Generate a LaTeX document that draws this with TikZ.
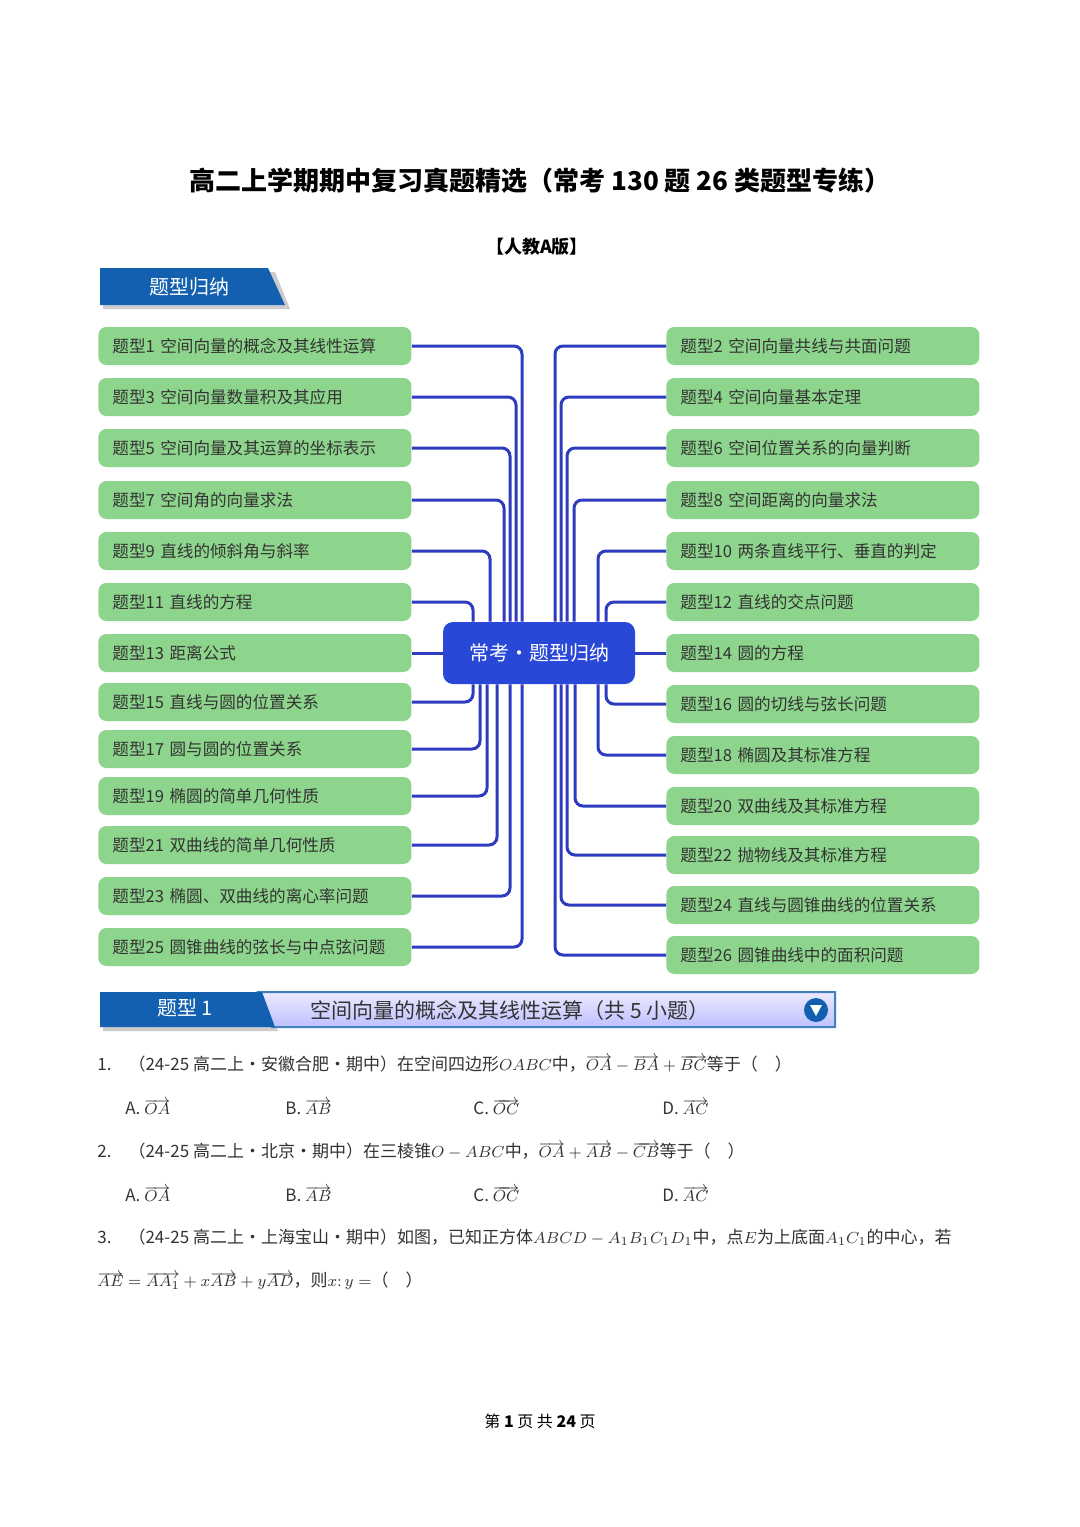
\documentclass[tikz,border=0pt]{standalone}
\usepackage{fontspec}
\setmainfont{Noto Sans CJK SC}
\usetikzlibrary{shapes.geometric,calc}
\definecolor{gbox}{HTML}{8DD58C}
\definecolor{conn}{HTML}{2D3BBF}
\definecolor{cbox}{HTML}{2A48D8}
\definecolor{tabblue}{HTML}{1360B0}
\definecolor{ttext}{HTML}{333333}
\begin{document}
\begin{tikzpicture}[x=0.5pt,y=-0.5pt,
 item/.style={fill=gbox,rounded corners=4pt,text width=142.5pt,align=left,inner xsep=7pt,inner ysep=3pt,minimum height=19pt,font=\fontsize{8.3}{9}\selectfont,text=ttext,anchor=west},
 cn/.style={draw=conn,line width=1.5pt,rounded corners=4pt},
 q/.style={anchor=west,font=\fontsize{8.5}{10}\selectfont,text=ttext,inner sep=0pt}]
\useasboundingbox (0,0) rectangle (1080,1527);
\fill[white] (0,0) rectangle (1080,1527);
\node[font=\bfseries\fontsize{13}{15}\selectfont] (title) at (540,181) {高二上学期期中复习真题精选（常考 130 题 26 类题型专练）};
\node[font=\bfseries\fontsize{9}{11}\selectfont] (sub) at (537,247) {【人教A版】};
% tab
\fill[gray!40] (103,309) -- (290,309) -- (275,272) -- (103,272) -- cycle;
\fill[tabblue] (100,305) -- (285,305) -- (268,268) -- (100,268) -- cycle;
\node[text=white,font=\fontsize{10}{12}\selectfont] (tab) at (189,287) {题型归纳};
% center
\node[fill=cbox,rounded corners=5pt,minimum width=96pt,minimum height=31pt,text=white,font=\fontsize{10}{12}\selectfont] (c) at (539,653) {常考·题型归纳};
% left items
\foreach \n/\y/\t in {1/346/题型1 空间向量的概念及其线性运算,3/397/题型3 空间向量数量积及其应用,5/448/题型5 空间向量及其运算的坐标表示,7/500/题型7 空间角的向量求法,9/551/题型9 直线的倾斜角与斜率,11/602/题型11 直线的方程,13/653/题型13 距离公式,15/702/题型15 直线与圆的位置关系,17/749/题型17 圆与圆的位置关系,19/796/题型19 椭圆的简单几何性质,21/845/题型21 双曲线的简单几何性质,23/896/题型23 椭圆、双曲线的离心率问题,25/947/题型25 圆锥曲线的弦长与中点弦问题}
  \node[item] (L\n) at (98,\y) {\t};
\foreach \n/\y/\t in {2/346/题型2 空间向量共线与共面问题,4/397/题型4 空间向量基本定理,6/448/题型6 空间位置关系的向量判断,8/500/题型8 空间距离的向量求法,10/551/题型10 两条直线平行、垂直的判定,12/602/题型12 直线的交点问题,14/653/题型14 圆的方程,16/704/题型16 圆的切线与弦长问题,18/755/题型18 椭圆及其标准方程,20/806/题型20 双曲线及其标准方程,22/855/题型22 抛物线及其标准方程,24/905/题型24 直线与圆锥曲线的位置关系,26/955/题型26 圆锥曲线中的面积问题}
  \node[item] (R\n) at (666,\y) {\t};
% connectors
\foreach \n/\s in {1/-8.5,3/-11.5,5/-14.5,7/-17.5,9/-24.5,11/-33}
  \draw[cn] (L\n.east) -| ([xshift=\s pt]c.north);
\foreach \n/\s in {15/-33,17/-29.5,19/-26,21/-21,23/-14.5,25/-8.5}
  \draw[cn] (L\n.east) -| ([xshift=\s pt]c.south);
\draw[cn] (L13.east) -- (c.west);
\foreach \n/\s in {2/8,4/11,6/14,8/17.5,10/29.5,12/33.5}
  \draw[cn] (R\n.west) -| ([xshift=\s pt]c.north);
\foreach \n/\s in {16/33.5,18/29.5,20/18,22/14,24/11,26/8}
  \draw[cn] (R\n.west) -| ([xshift=\s pt]c.south);
\draw[cn] (R14.west) -- (c.east);
% type bar
\fill[gray!40] (103,1031) -- (278,1031) -- (264,996) -- (103,996) -- cycle;
\shade[top color=blue!8,bottom color=blue!25,draw=tabblue!80,line width=1pt] (258,992) -- (835,992) -- (835,1027) -- (272,1027) -- cycle;
\fill[tabblue] (100,1027) -- (275,1027) -- (262,992) -- (100,992) -- cycle;
\node[text=white,font=\fontsize{10}{12}\selectfont] (t1) at (185,1008) {题型 1};
\node[font=\fontsize{10.5}{12}\selectfont,text=ttext] (t1b) at (510,1010) {空间向量的概念及其线性运算（共 5 小题）};
\node[circle,fill=tabblue,minimum size=12pt,inner sep=0pt] (ic) at (816,1010) {};
\fill[white] ($(ic)+(-6,-5)$) -- ($(ic)+(6,-5)$) -- ($(ic)+(0,6)$) -- cycle;
% questions
\node[q] (q1) at (97,1064) {1.\quad（24-25 高二上·安徽合肥·期中）在空间四边形$OABC$中，$\overrightarrow{OA}-\overrightarrow{BA}+\overrightarrow{BC}$等于（\quad ）};
\node[q] (a1) at (125,1107) {A.\ $\overrightarrow{OA}$};
\node[q] (b1) at (285,1107) {B.\ $\overrightarrow{AB}$};
\node[q] (c1) at (473,1107) {C.\ $\overrightarrow{OC}$};
\node[q] (d1) at (662,1107) {D.\ $\overrightarrow{AC}$};
\node[q] (q2) at (97,1151) {2.\quad（24-25 高二上·北京·期中）在三棱锥$O-ABC$中，$\overrightarrow{OA}+\overrightarrow{AB}-\overrightarrow{CB}$等于（\quad ）};
\node[q] (a2) at (125,1194) {A.\ $\overrightarrow{OA}$};
\node[q] (b2) at (285,1194) {B.\ $\overrightarrow{AB}$};
\node[q] (c2) at (473,1194) {C.\ $\overrightarrow{OC}$};
\node[q] (d2) at (662,1194) {D.\ $\overrightarrow{AC}$};
\node[q] (q3) at (97,1237) {3.\quad（24-25 高二上·上海宝山·期中）如图，已知正方体$ABCD-A_1B_1C_1D_1$中，点$E$为上底面$A_1C_1$的中心，若};
\node[q] (q3b) at (97,1281) {$\overrightarrow{AE}=\overrightarrow{AA_1}+x\overrightarrow{AB}+y\overrightarrow{AD}$，则$x{:}\,y=$（\quad ）};
\node[font=\fontsize{8}{10}\selectfont] (foot) at (540,1421) {第 \textbf{1} 页 共 \textbf{24} 页};
\end{tikzpicture}
\end{document}
